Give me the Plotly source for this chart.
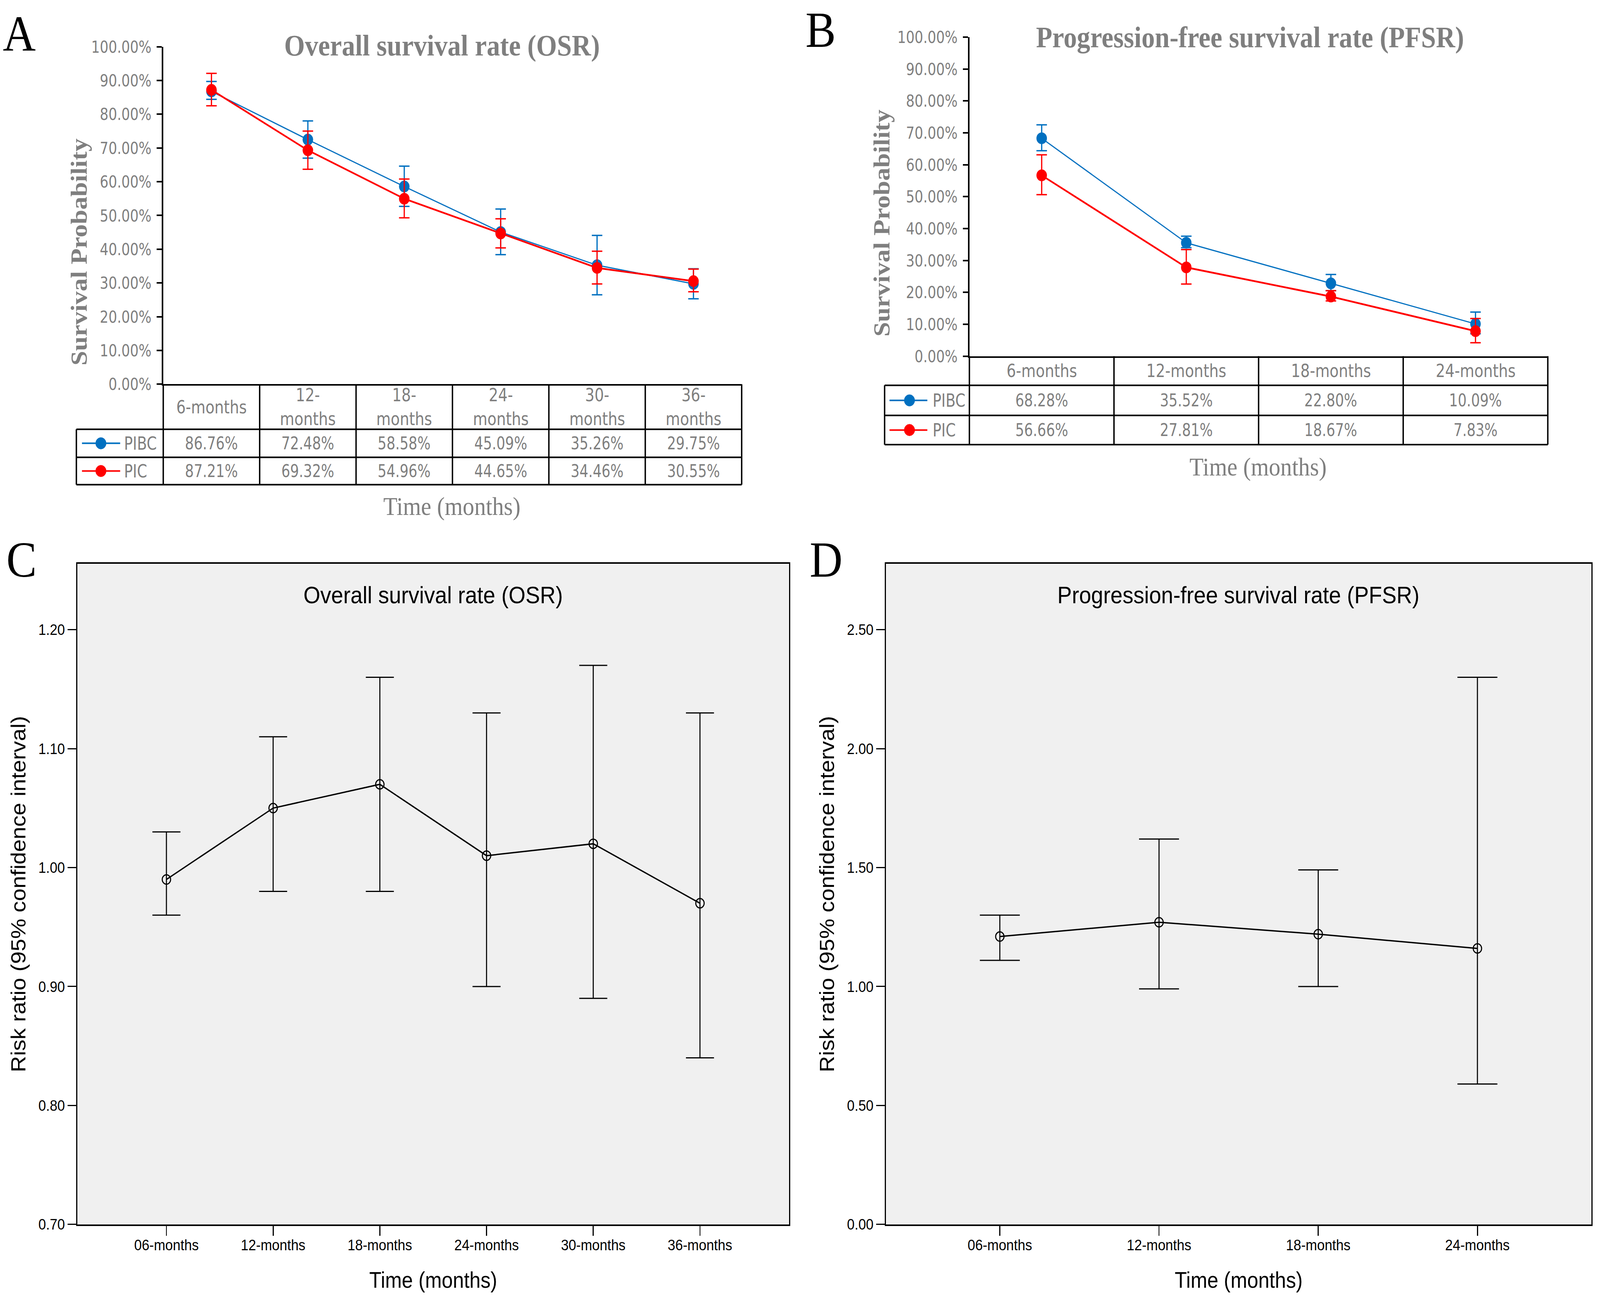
import plotly.graph_objects as go

W, H = 4567, 3335

# ---------------- data ----------------
os_months = ["6-months", "12-months", "18-months", "24-months", "30-months", "36-months"]
os_header = ["6-months", "12-<br>months", "18-<br>months", "24-<br>months", "30-<br>months", "36-<br>months"]
os_pibc = [86.76, 72.48, 58.58, 45.09, 35.26, 29.75]
os_pibc_lo = [84.4, 67.0, 52.7, 38.4, 26.5, 25.3]
os_pibc_hi = [89.7, 78.0, 64.6, 51.9, 44.1, 34.2]
os_pic = [87.21, 69.32, 54.96, 44.65, 34.46, 30.55]
os_pic_lo = [82.5, 63.7, 49.3, 40.4, 29.7, 27.4]
os_pic_hi = [92.1, 75.0, 60.8, 49.0, 39.4, 34.1]

pfs_months = ["6-months", "12-months", "18-months", "24-months"]
pfs_pibc = [68.28, 35.52, 22.80, 10.09]
pfs_pibc_lo = [64.4, 34.0, 20.5, 7.0]
pfs_pibc_hi = [72.5, 37.6, 25.6, 13.8]
pfs_pic = [56.66, 27.81, 18.67, 7.83]
pfs_pic_lo = [50.6, 22.6, 17.3, 4.2]
pfs_pic_hi = [63.1, 33.4, 20.5, 11.8]

rr_os_labels = ["06-months", "12-months", "18-months", "24-months", "30-months", "36-months"]
rr_os = [0.99, 1.05, 1.07, 1.01, 1.02, 0.97]
rr_os_lo = [0.96, 0.98, 0.98, 0.90, 0.89, 0.84]
rr_os_hi = [1.03, 1.11, 1.16, 1.13, 1.17, 1.13]

rr_pfs_labels = ["06-months", "12-months", "18-months", "24-months"]
rr_pfs = [1.21, 1.27, 1.22, 1.16]
rr_pfs_lo = [1.11, 0.99, 1.00, 0.59]
rr_pfs_hi = [1.30, 1.62, 1.49, 2.30]

pct_ticks = [0, 10, 20, 30, 40, 50, 60, 70, 80, 90, 100]
rr_os_ticks = [0.70, 0.80, 0.90, 1.00, 1.10, 1.20]
rr_pfs_ticks = [0.0, 0.5, 1.0, 1.5, 2.0, 2.5]

series_names = ["PIBC", "PIC"]
series_colors = ["#0070C0", "#FF0000"]

# ---------------- styling ----------------
GRAY = "#7F7F7F"
NARROW = "DejaVu Sans Condensed, Liberation Sans Narrow, sans-serif"
SERIF = "Liberation Serif, Times New Roman, serif"
SANS = "Liberation Sans, Arial, sans-serif"


def fx(px):
    return px / W


def fy(py):
    return 1 - py / H


# pixel boxes (left, top, right, bottom)
boxA = (466, 96, 2117, 973)
boxB = (2767, 71, 4418, 900)
boxC = (221, 1440, 2252, 3156)
boxD = (2529, 1440, 4542, 3156)

fig = go.Figure()


def lo_hi(v, lo, hi):
    return [h - x for x, h in zip(v, hi)], [x - l for x, l in zip(v, lo)]


# Panel A / B traces
for xa, ya, cats, sets in [
    ("x", "y", os_months, [(os_pibc, os_pibc_lo, os_pibc_hi), (os_pic, os_pic_lo, os_pic_hi)]),
    ("x2", "y2", pfs_months, [(pfs_pibc, pfs_pibc_lo, pfs_pibc_hi), (pfs_pic, pfs_pic_lo, pfs_pic_hi)]),
]:
    for (v, lo, hi), name, col, lw in zip(sets, series_names, series_colors, [3, 4.5]):
        up, dn = lo_hi(v, lo, hi)
        fig.add_trace(go.Scatter(
            x=cats, y=v, xaxis=xa, yaxis=ya, name=name, mode="lines+markers",
            line=dict(color=col, width=lw),
            marker=dict(color=col, size=30),
            error_y=dict(type="data", array=up, arrayminus=dn, color=col,
                         thickness=3.5, width=15),
            showlegend=False, cliponaxis=False,
        ))

# Panel C / D traces
for xa, ya, cats, v, lo, hi, cw in [
    ("x3", "y3", rr_os_labels, rr_os, rr_os_lo, rr_os_hi, 40),
    ("x4", "y4", rr_pfs_labels, rr_pfs, rr_pfs_lo, rr_pfs_hi, 57),
]:
    up, dn = lo_hi(v, lo, hi)
    fig.add_trace(go.Scatter(
        x=cats, y=v, xaxis=xa, yaxis=ya, mode="lines+markers",
        line=dict(color="black", width=3.5),
        marker=dict(symbol="circle-open", size=24, color="black", line=dict(width=3, color="black")),
        error_y=dict(type="data", array=up, arrayminus=dn, color="black", thickness=3, width=cw),
        showlegend=False,
    ))


def dom(box):
    l, t, r, b = box
    return [fx(l), fx(r)], [fy(b), fy(t)]


pct_text = [f"{v:.2f}%" for v in pct_ticks]

axA_x, axA_y = dom(boxA)
axB_x, axB_y = dom(boxB)
axC_x, axC_y = dom(boxC)
axD_x, axD_y = dom(boxD)

common_pct_y = dict(range=[0, 100], tickvals=pct_ticks, ticktext=pct_text, ticks="outside",
                    ticklen=15, tickwidth=4, tickcolor="black", showline=True, linewidth=4,
                    linecolor="black", showgrid=False, zeroline=False, ticklabelstandoff=6,
                    tickfont=dict(family=NARROW, size=43, color=GRAY))
common_cat_x = dict(type="category", showticklabels=False, ticks="", showline=True, linewidth=4,
                    linecolor="black", showgrid=False, zeroline=False)
rr_axis = dict(ticks="outside", tickwidth=3, tickcolor="black", showline=True, mirror=True,
               linewidth=3.5, linecolor="black", showgrid=False, zeroline=False,
               tickfont=dict(family=SANS, size=39, color="black"))

fig.update_layout(
    width=W, height=H, margin=dict(l=0, r=0, t=0, b=0),
    paper_bgcolor="white", plot_bgcolor="white", showlegend=False,
    xaxis=dict(domain=axA_x, anchor="y", range=[-0.5, len(os_months) - 0.5],
               categoryarray=os_months, **common_cat_x),
    yaxis=dict(domain=axA_y, anchor="x", **common_pct_y),
    xaxis2=dict(domain=axB_x, anchor="y2", range=[-0.5, len(pfs_months) - 0.5],
                categoryarray=pfs_months, **common_cat_x),
    yaxis2=dict(domain=axB_y, anchor="x2", **common_pct_y),
    xaxis3=dict(domain=axC_x, anchor="y3", type="category", categoryarray=rr_os_labels,
                range=[-0.834, len(rr_os_labels) - 1 + 0.834], ticklen=26,
                ticklabelstandoff=-10, **rr_axis),
    yaxis3=dict(domain=axC_y, anchor="x3", range=[0.70, 1.2553], tickvals=rr_os_ticks,
                ticktext=[f"{v:.2f}" for v in rr_os_ticks], ticklen=24, **rr_axis),
    xaxis4=dict(domain=axD_x, anchor="y4", type="category", categoryarray=rr_pfs_labels,
                range=[-0.715, len(rr_pfs_labels) - 1 + 0.715], ticklen=26,
                ticklabelstandoff=-10, **rr_axis),
    yaxis4=dict(domain=axD_y, anchor="x4", range=[0.0, 2.7765], tickvals=rr_pfs_ticks,
                ticktext=[f"{v:.2f}" for v in rr_pfs_ticks], ticklen=24, **rr_axis),
)

shapes = []
annots = []

# gray backgrounds for C and D
for xr, yr in [("x3", "y3"), ("x4", "y4")]:
    shapes.append(dict(type="rect", xref=f"{xr} domain", yref=f"{yr} domain", x0=0, x1=1, y0=0, y1=1,
                       fillcolor="#F0F0F0", line=dict(width=0), layer="below"))


def table(box, legend_left, row_bottoms, xref, headers, rows, legend_geom):
    l, t, r, b = box
    n = len(headers)
    cw = (r - l) / n
    hb, r1b, r2b = row_bottoms
    LW = 4
    for yy in (hb, r1b, r2b):
        shapes.append(dict(type="line", xref="paper", yref="paper", x0=fx(legend_left), x1=fx(r),
                           y0=fy(yy), y1=fy(yy), line=dict(color="black", width=LW)))
    for k in range(n + 1):
        xx = l + k * cw
        shapes.append(dict(type="line", xref="paper", yref="paper", x0=fx(xx), x1=fx(xx),
                           y0=fy(b), y1=fy(r2b), line=dict(color="black", width=LW)))
    shapes.append(dict(type="line", xref="paper", yref="paper", x0=fx(legend_left), x1=fx(legend_left),
                       y0=fy(hb), y1=fy(r2b), line=dict(color="black", width=LW)))
    # header text
    hc = (b + hb) / 2
    for i, h in enumerate(headers):
        annots.append(dict(xref=xref, yref="paper", x=i, y=fy(hc), text=h, showarrow=False,
                           xanchor="center", yanchor="middle",
                           font=dict(family=NARROW, size=47, color=GRAY)))
    centers = [(hb + r1b) / 2, (r1b + r2b) / 2]
    ln0, ln1, cx, tx = legend_geom
    for vals, cy, name, col in zip(rows, centers, series_names, series_colors):
        for i, v in enumerate(vals):
            annots.append(dict(xref=xref, yref="paper", x=i, y=fy(cy), text=f"{v:.2f}%",
                               showarrow=False, xanchor="center", yanchor="middle",
                               font=dict(family=NARROW, size=44, color=GRAY)))
        shapes.append(dict(type="line", xref="paper", yref="paper", x0=fx(ln0), x1=fx(ln1),
                           y0=fy(cy), y1=fy(cy), line=dict(color=col, width=4)))
        rr = 15
        shapes.append(dict(type="circle", xref="paper", yref="paper", x0=fx(cx - rr), x1=fx(cx + rr),
                           y0=fy(cy + rr), y1=fy(cy - rr), fillcolor=col, line=dict(color=col, width=1)))
        annots.append(dict(xref="paper", yref="paper", x=fx(tx), y=fy(cy), text=name, showarrow=False,
                           xanchor="left", yanchor="middle",
                           font=dict(family=NARROW, size=46, color=GRAY)))


table(boxA, 218, (1090, 1163, 1234), "x", os_header, [os_pibc, os_pic], (234, 343, 288, 352))
table(boxB, 2525, (976, 1054, 1130), "x2", pfs_months, [pfs_pibc, pfs_pic], (2539, 2647, 2596, 2660))


def text(x, y, s, fam, size, color, bold=False, angle=0, xanchor="center"):
    if bold:
        s = f"<b>{s}</b>"
    annots.append(dict(xref="paper", yref="paper", x=fx(x), y=fy(y), text=s, showarrow=False,
                       xanchor=xanchor, yanchor="middle", textangle=angle,
                       font=dict(family=fam, size=size, color=color)))


# Panel A/B titles
text(1261, 93, "Overall survival rate (OSR)", SERIF, 76, GRAY, bold=True)
text(3568, 72, "Progression-free survival rate (PFSR)", SERIF, 76, GRAY, bold=True)
text(224, 630, "Survival Probability", SERIF, 67, GRAY, bold=True, angle=-90)
text(2516, 555, "Survival Probability", SERIF, 67, GRAY, bold=True, angle=-90)
text(1290, 1290, "Time (months)", SERIF, 66, GRAY)
text(3591, 1188, "Time (months)", SERIF, 66, GRAY)

# Panel C/D titles
text((boxC[0] + boxC[2]) / 2, 1520, "Overall survival rate (OSR)", SANS, 62, "black")
text((boxD[0] + boxD[2]) / 2, 1520, "Progression-free survival rate (PFSR)", SANS, 62, "black")
text(52, (boxC[1] + boxC[3]) / 2, "Risk ratio (95% confidence interval)", SANS, 58, "black", angle=-90)
text(2360, (boxD[1] + boxD[3]) / 2, "Risk ratio (95% confidence interval)", SANS, 58, "black", angle=-90)
text((boxC[0] + boxC[2]) / 2, 3300, "Time (months)", SANS, 57, "black")
text((boxD[0] + boxD[2]) / 2, 3300, "Time (months)", SANS, 57, "black")

# Panel letters
text(55, 62, "A", SERIF, 130, "black")
text(2342, 52, "B", SERIF, 130, "black")
text(61, 1428, "C", SERIF, 130, "black")
text(2358, 1428, "D", SERIF, 130, "black")

fig.update_layout(shapes=shapes, annotations=annots)

# scale the fixed-size figure so that it exactly fills the browser viewport
post = """
(function(){
  var gd = document.getElementById('{plot_id}');
  var de = document.documentElement, bd = document.body;
  de.style.margin = '0'; bd.style.margin = '0'; de.style.padding = '0'; bd.style.padding = '0';
  de.style.overflow = 'hidden'; bd.style.overflow = 'hidden';
  function fit(){
    var w = window.innerWidth, h = window.innerHeight;
    var sx = w / %d, sy = h / %d;
    gd.style.transformOrigin = '0 0';
    gd.style.transform = 'scale(' + sx + ',' + sy + ')';
  }
  fit();
  window.addEventListener('resize', fit);
})();
""" % (W, H)

fig.write_html("out.html", config={"displayModeBar": False}, post_script=post)
